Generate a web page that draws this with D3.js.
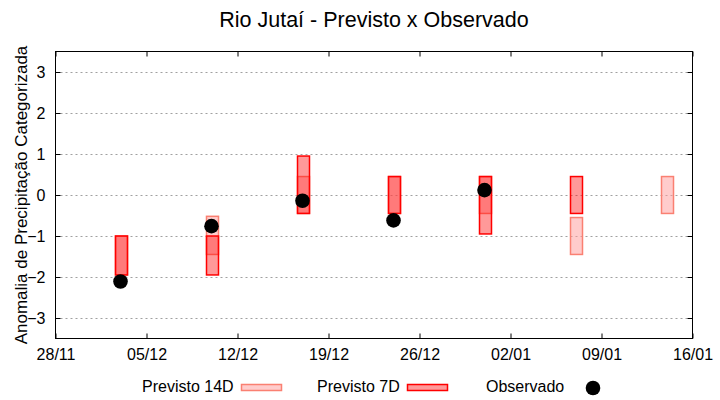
<!DOCTYPE html>
<html><head><meta charset="utf-8">
<script src="https://cdn.jsdelivr.net/npm/d3@7"></script>
<style>body{margin:0;background:#fff}svg{display:block}text{font-family:"Liberation Sans",Arial,sans-serif}</style>
</head><body><svg id="c" width="720" height="400"></svg>
<script>
const weeks = ["2023-12-03","2023-12-10","2023-12-17","2023-12-24","2023-12-31","2024-01-07","2024-01-14"];
const p14Low  = [-1.95, -1.45, -0.45, -0.45, -0.45, -1.45, -0.45];
const p14High = [-1.0, -0.52, 0.45, 0.45, 0.45, -0.55, 0.45];
const p7Low   = [-1.95, -1.95, -0.45, -0.45, -0.95, -0.45, null];
const p7High  = [-1.0, -1.0, 0.95, 0.45, 0.45, 0.45, null];
const observed = [-2.11, -0.76, -0.14, -0.62, 0.12, null, null];
const xTicks = ["2023-11-28","2023-12-05","2023-12-12","2023-12-19","2023-12-26","2024-01-02","2024-01-09","2024-01-16"];
const yTicks = [-3,-2,-1,0,1,2,3];
const title = "Rio Jutaí - Previsto x Observado";
const yLabel = "Anomalia de Precipitação Categorizada";
const legendLabels = ["Previsto 14D","Previsto 7D","Observado"];

const parse = d3.utcParse("%Y-%m-%d");
const fmt = d3.utcFormat("%d/%m");
const svg = d3.select("#c");
const L=55.5, R=692.5, T=51.5, B=338.5;
const x = d3.scaleUtc().domain([parse(xTicks[0]), parse(xTicks[xTicks.length-1])]).range([L,R]);
const y = d3.scaleLinear().domain([-3.5,3.5]).range([B,T]);

// grid
svg.append("g").selectAll("line").data(yTicks).join("line")
  .attr("x1",L).attr("x2",R).attr("y1",d=>Math.round(y(d))+0.5).attr("y2",d=>Math.round(y(d))+0.5)
  .attr("stroke","#a0a0a0").attr("stroke-width",1).attr("stroke-dasharray","2,3");

// axes (ticks inward, mirrored)
const tl = 5;
const axL = d3.axisLeft(y).tickValues(yTicks).tickSize(-tl).tickPadding(10).tickFormat(d3.format("d"));
const axR = d3.axisRight(y).tickValues(yTicks).tickSize(-tl).tickFormat("");
const xt = xTicks.map(parse);
const axB = d3.axisBottom(x).tickValues(xt).tickSize(-tl).tickPadding(10).tickFormat(fmt);
const axT = d3.axisTop(x).tickValues(xt).tickSize(-tl).tickFormat("");
function style(g){g.select(".domain").remove();g.selectAll("line").attr("stroke","#000");g.selectAll("text").attr("fill","#000").style("font-size","16px").style("font-family","'Liberation Sans',Arial,sans-serif");}
svg.append("g").attr("transform",`translate(${L},0)`).call(axL).call(style);
svg.append("g").attr("transform",`translate(${R},0)`).call(axR).call(style);
svg.append("g").attr("transform",`translate(0,${B})`).call(axB).call(style);
svg.append("g").attr("transform",`translate(0,${T})`).call(axT).call(style);

svg.append("rect").attr("x",L).attr("y",T).attr("width",R-L).attr("height",B-T).attr("fill","none").attr("stroke","#000");

// bars
const bw = 12;
const c14 = {fill:"rgba(255,153,153,0.5)", stroke:"#fa8072"};
const c7 = {fill:"rgba(255,0,0,0.4)", stroke:"#ff0000"};
const rows = weeks.map((w,i)=>({d:parse(w),l14:p14Low[i],h14:p14High[i],l7:p7Low[i],h7:p7High[i],o:observed[i]}));
svg.append("g").selectAll("rect").data(rows.filter(r=>r.l14!=null)).join("rect")
  .attr("x",r=>Math.round(x(r.d)-bw/2)+0.5).attr("width",bw)
  .attr("y",r=>y(r.h14)).attr("height",r=>y(r.l14)-y(r.h14))
  .attr("fill",c14.fill).attr("stroke",c14.stroke).attr("stroke-width",1.5);
svg.append("g").selectAll("rect").data(rows.filter(r=>r.l7!=null)).join("rect")
  .attr("x",r=>Math.round(x(r.d)-bw/2)+0.5).attr("width",bw)
  .attr("y",r=>y(r.h7)).attr("height",r=>y(r.l7)-y(r.h7))
  .attr("fill",c7.fill).attr("stroke",c7.stroke).attr("stroke-width",1.5);
svg.append("g").selectAll("circle").data(rows.filter(r=>r.o!=null)).join("circle")
  .attr("cx",r=>x(r.d)).attr("cy",r=>y(r.o)).attr("r",7.3).attr("fill","#000");

// title and labels
svg.append("text").attr("x",(L+R)/2).attr("y",27).attr("text-anchor","middle").style("font-size","21.5px").text(title);
svg.append("text").attr("transform",`translate(27,${(T+B)/2}) rotate(-90)`).attr("text-anchor","middle").style("font-size","17px").text(yLabel);

// legend
const lg = svg.append("g").style("font-size","16px");
lg.append("text").attr("x",142).attr("y",392).text(legendLabels[0]);
lg.append("rect").attr("x",241.5).attr("y",384.5).attr("width",40).attr("height",6).attr("fill",c14.fill).attr("stroke",c14.stroke).attr("stroke-width",1.5);
lg.append("text").attr("x",317).attr("y",392).text(legendLabels[1]);
lg.append("rect").attr("x",407.5).attr("y",384.5).attr("width",40).attr("height",6).attr("fill",c7.fill).attr("stroke",c7.stroke).attr("stroke-width",1.5);
lg.append("text").attr("x",486).attr("y",392).text(legendLabels[2]);
lg.append("circle").attr("cx",593).attr("cy",388).attr("r",7.3).attr("fill","#000");
</script></body></html>
